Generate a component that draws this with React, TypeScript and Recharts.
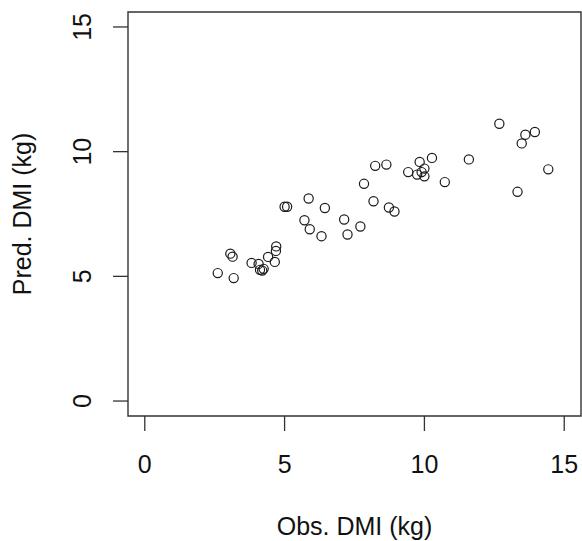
import { ScatterChart, Scatter, XAxis, YAxis, ReferenceArea } from "recharts";

const obsDmi = [
  2.61, 3.06, 3.14, 3.18, 3.82, 4.07, 4.12, 4.2, 4.25, 4.41, 4.65, 4.69, 4.7,
  5.0, 5.09, 5.71, 5.86, 5.9, 6.32, 6.44, 7.13, 7.25, 7.71, 7.84, 8.18, 8.24,
  8.64, 8.73, 8.93, 9.42, 9.74, 9.83, 9.9, 10.0, 10.0, 10.27, 10.73, 11.59,
  12.68, 13.33, 13.48, 13.61, 13.95, 14.43,
];
const predDmi = [
  5.13, 5.91, 5.79, 4.93, 5.54, 5.5, 5.26, 5.23, 5.3, 5.78, 5.58, 6.02, 6.2,
  7.79, 7.79, 7.25, 8.12, 6.89, 6.61, 7.74, 7.28, 6.68, 7.0, 8.71, 8.01, 9.43,
  9.48, 7.76, 7.6, 9.18, 9.08, 9.59, 9.18, 9.32, 9.01, 9.75, 8.78, 9.69, 11.12,
  8.39, 10.33, 10.68, 10.79, 9.29,
];
const axisTicks = [0, 5, 10, 15];
const lim: [number, number] = [-0.6, 15.6];

const points = obsDmi.map((x, i) => ({ x, y: predDmi[i] }));

const FONT = "'Liberation Sans', Arial, sans-serif";
const FS = 25;

const OpenCircle = (props: any) => (
  <circle cx={props.cx} cy={props.cy} r={4.6} fill="none" stroke="#1a1a1a" strokeWidth={1.2} />
);

const YTick = ({ x, y, payload }: any) => (
  <text
    x={x}
    y={y}
    transform={`rotate(-90, ${x}, ${y})`}
    textAnchor="middle"
    fontSize={FS}
    fontFamily={FONT}
    fill="#111"
  >
    {payload.value}
  </text>
);

export default function App() {
  return (
    <div style={{ position: "absolute", left: 0, top: 0, background: "#fff" }}>
      <ScatterChart
        width={582}
        height={541}
        margin={{ top: 12, right: 1, left: 0, bottom: 0 }}
      >
        <XAxis
          type="number"
          dataKey="x"
          domain={lim}
          ticks={axisTicks}
          allowDataOverflow
          axisLine={false}
          tickSize={15}
          tickMargin={24}
          tickLine={{ stroke: "#333", strokeWidth: 1.3 }}
          tick={{ fill: "#111", fontSize: FS, fontFamily: FONT }}
          height={125}
          label={{
            content: ({ viewBox }: any) => (
              <text
                x={viewBox.x + viewBox.width / 2}
                y={viewBox.y + 119}
                textAnchor="middle"
                fontSize={FS}
                fontFamily={FONT}
                fill="#111"
              >
                Obs. DMI (kg)
              </text>
            ),
          }}
        />
        <YAxis
          type="number"
          dataKey="y"
          domain={lim}
          ticks={axisTicks}
          allowDataOverflow
          axisLine={false}
          tickSize={15}
          tickMargin={22}
          tickLine={{ stroke: "#333", strokeWidth: 1.3 }}
          tick={<YTick />}
          width={128}
          label={{
            content: ({ viewBox }: any) => {
              const cx = 31;
              const cy = viewBox.y + viewBox.height / 2;
              return (
                <text
                  x={cx}
                  y={cy}
                  transform={`rotate(-90, ${cx}, ${cy})`}
                  textAnchor="middle"
                  fontSize={FS}
                  fontFamily={FONT}
                  fill="#111"
                >
                  Pred. DMI (kg)
                </text>
              );
            },
          }}
        />
        <ReferenceArea
          x1={lim[0]}
          x2={lim[1]}
          y1={lim[0]}
          y2={lim[1]}
          fill="none"
          stroke="#333"
          strokeWidth={1.4}
          ifOverflow="visible"
        />
        <Scatter data={points} shape={<OpenCircle />} isAnimationActive={false} />
      </ScatterChart>
    </div>
  );
}
